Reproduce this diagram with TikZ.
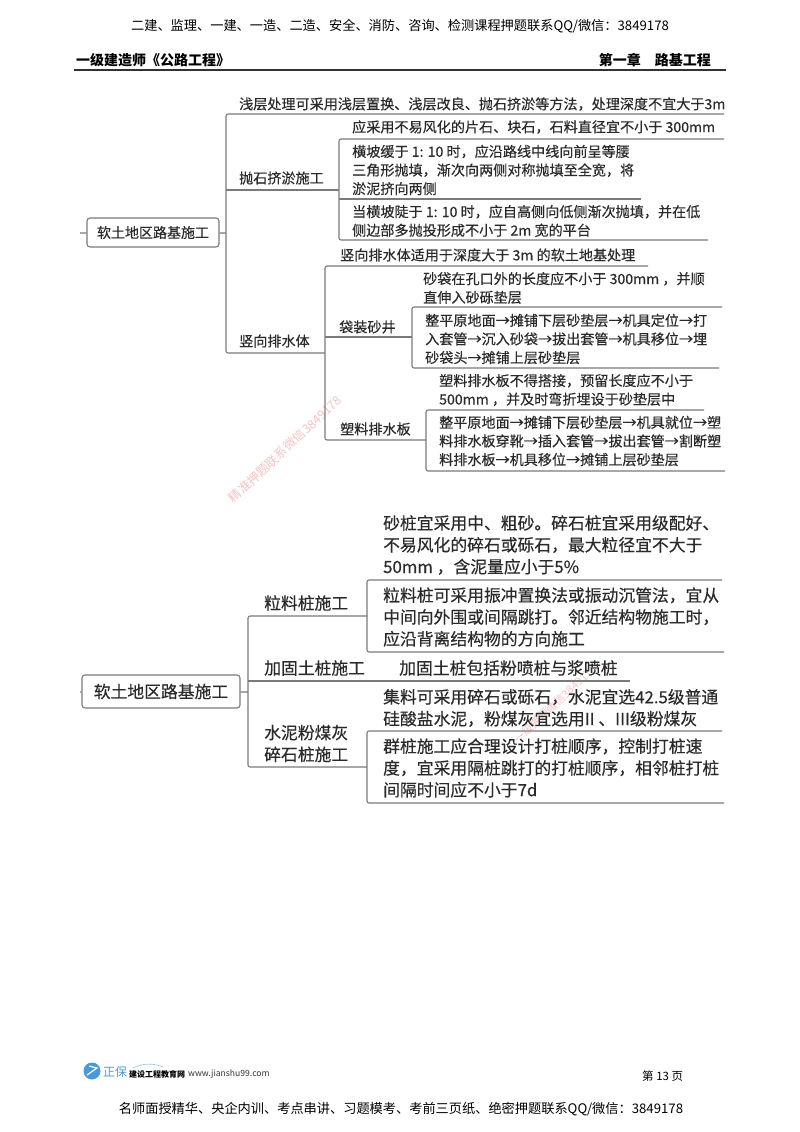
\documentclass[tikz,border=0pt]{standalone}
\usepackage{fontspec}
\setmainfont{Noto Sans CJK SC}
\newfontfamily\mapfont[FakeBold=0.35]{Noto Sans CJK SC}
\newcommand{\fwcomma}{\char"FF0C\relax}
\newcommand{\fwcolon}{\char"FF1A\relax}
\definecolor{mapline}{HTML}{7A7A7A}
\definecolor{maptext}{HTML}{2A2A2A}
\definecolor{markpink}{HTML}{F3C4C4}
\definecolor{logoblue}{HTML}{4A9AD8}
\tikzset{
    branch/.style={draw=mapline, line width=1.1pt, rounded corners=2pt},
    rootbox/.style={draw=mapline, line width=1.1pt, rounded corners=3pt, text=maptext, inner sep=0pt, align=center},
    small/.style={anchor=west, inner sep=0pt, align=left, text=maptext, font=\mapfont\fontsize{14.1}{18.6}\selectfont},
    large/.style={anchor=west, inner sep=0pt, align=left, text=maptext, font=\mapfont\fontsize{16.8}{21.8}\selectfont},
    pagetext/.style={inner sep=0pt, text=black, font=\fontsize{13.2}{16}\selectfont},
    watermark/.style={inner sep=0pt, rotate=43, text=markpink, font=\fontsize{12.5}{14}\selectfont},
}
\begin{document}
\begin{tikzpicture}[x=1pt, y=-1pt]
    \useasboundingbox (0,0) rectangle (800,1132);

    % Watermarks
    \node[watermark] (markup) at (285,449) {精准押题联系微信3849178};
    \node[watermark, font=\fontsize{11}{13}\selectfont] (marklow) at (555,704) {一级押题微信3849178};

    % Page header
    \node[pagetext] (headtop) at (400,26) {二建、监理、一建、一造、二造、安全、消防、咨询、检测课程押题联系QQ/微信\fwcolon 3849178};
    \node[pagetext, anchor=west, font=\fontsize{14}{16}\selectfont\bfseries] (headleft) at (76,60) {一级建造师《公路工程》};
    \node[pagetext, anchor=east, font=\fontsize{14}{16}\selectfont\bfseries] (headright) at (711,60) {第一章\hspace{1em}路基工程};
    \coordinate (ruleleft) at (74,70);
    \coordinate (ruleright) at (726,70);
    \draw[line width=1.3pt, black!80] (ruleleft) -- (ruleright);

    % First map: labels
    \node[rootbox, minimum width=132pt, minimum height=29pt, font=\mapfont\fontsize{14}{16}\selectfont] (rootA) at (153,232.5) {软土地区路基施工};
    \node[small] (shallow) at (239,104) {浅层处理可采用浅层置换、浅层改良、抛石挤淤等方法\fwcomma 处理深度不宜大于3m};
    \node[small] (riprap) at (239,178) {抛石挤淤施工};
    \node[small] (ripA) at (352,127) {应采用不易风化的片石、块石\fwcomma 石料直径宜不小于 300mm};
    \node[small] (ripB) at (352,170) {横坡缓于 1: 10 时\fwcomma 应沿路线中线向前呈等腰\\三角形抛填\fwcomma 渐次向两侧对称抛填至全宽\fwcomma 将\\淤泥挤向两侧};
    \node[small] (ripC) at (352,221) {当横坡陡于 1: 10 时\fwcomma 应自高侧向低侧渐次抛填\fwcomma 并在低\\侧边部多抛投形成不小于 2m 宽的平台};
    \node[small] (vertical) at (239,341) {竖向排水体};
    \node[small] (vertA) at (340,255) {竖向排水体适用于深度大于 3m 的软土地基处理};
    \node[small] (sandwell) at (339,327) {袋装砂井};
    \node[small] (sandA) at (423,288) {砂袋在孔口外的长度应不小于 300mm \fwcomma 并顺\\直伸入砂砾垫层};
    \node[small] (sandB) at (425,339) {整平原地面→摊铺下层砂垫层→机具定位→打\\入套管→沉入砂袋→拔出套管→机具移位→埋\\砂袋头→摊铺上层砂垫层};
    \node[small] (plastic) at (340,429) {塑料排水板};
    \node[small] (plastA) at (439,390) {塑料排水板不得搭接\fwcomma 预留长度应不小于\\500mm \fwcomma 并及时弯折埋设于砂垫层中};
    \node[small] (plastB) at (439,441) {整平原地面→摊铺下层砂垫层→机具就位→塑\\料排水板穿靴→插入套管→拔出套管→割断塑\\料排水板→机具移位→摊铺上层砂垫层};

    % First map: junctions and line ends
    \foreach \name/\x/\y in {stubA/80/233, jointA/226/233, trunkA/226/114, endShallow/724/114,
        jointRip/226/190, forkRip/339/190, topRip/339/139, endRipA/724/139, midRip/339/199, endRipB/641/199,
        lowRip/339/240, endRipC/708/240, lowA/226/353, forkVert/325/353, topVert/325/266, endVertA/648/266,
        jointSand/325/337, forkSand/412/337, topSand/412/307, endSandA/722/307, lowSand/412/368, endSandB/719/368,
        lowVert/325/440, forkPlast/426/440, topPlast/426/410, endPlastA/704/410, lowPlast/426/471, endPlastB/725/471} {
        \coordinate (\name) at (\x,\y);
    }

    % First map: lines
    \draw[branch] (stubA) -- (rootA);
    \draw[branch] (rootA) -- (jointA);
    \draw[branch] (endShallow) -- (trunkA) -- (lowA) -- (forkVert);
    \draw[branch] (jointRip) -- (forkRip);
    \draw[branch] (endRipA) -- (topRip) -- (lowRip) -- (endRipC);
    \draw[branch] (midRip) -- (endRipB);
    \draw[branch] (endVertA) -- (topVert) -- (lowVert) -- (forkPlast);
    \draw[branch] (jointSand) -- (forkSand);
    \draw[branch] (endSandA) -- (topSand) -- (lowSand) -- (endSandB);
    \draw[branch] (endPlastA) -- (topPlast) -- (lowPlast) -- (endPlastB);

    % Second map: labels
    \node[rootbox, minimum width=158pt, minimum height=33pt, font=\mapfont\fontsize{16.8}{18}\selectfont] (rootB) at (161,691.5) {软土地区路基施工};
    \node[large] (granular) at (264,603) {粒料桩施工};
    \node[large] (granA) at (383,545) {砂桩宜采用中、粗砂。碎石桩宜采用级配好、\\不易风化的碎石或砾石\fwcomma 最大粒径宜不大于\\50mm \fwcomma 含泥量应小于5\%};
    \node[large] (granB) at (383,617) {粒料桩可采用振冲置换法或振动沉管法\fwcomma 宜从\\中间向外围或间隔跳打。邻近结构物施工时\fwcomma \\应沿背离结构物的方向施工};
    \node[large] (stabil) at (264,668) {加固土桩施工};
    \node[large] (stabilA) at (399,668) {加固土桩包括粉喷桩与浆喷桩};
    \node[large] (cfg) at (264,743.5) {水泥粉煤灰\\碎石桩施工};
    \node[large] (cfgA) at (383,708) {集料可采用碎石或砾石\fwcomma 水泥宜选42.5级普通\\硅酸盐水泥\fwcomma 粉煤灰宜选用II 、III级粉煤灰};
    \node[large] (cfgB) at (383,768) {群桩施工应合理设计打桩顺序\fwcomma 控制打桩速\\度\fwcomma 宜采用隔桩跳打的打桩顺序\fwcomma 相邻桩打桩\\间隔时间应不小于7d};

    % Second map: junctions and line ends
    \foreach \name/\x/\y in {stubB/80/692, jointB/248/692, topB/248/616, lowB/248/767,
        forkGran/367/616, topGran/367/580, endGranA/722/580, lowGran/367/652, endGranB/724/652,
        jointStabil/248/681, endStabil/630/681,
        forkCfg/367/767, topCfg/367/731, endCfgA/722/731, lowCfg/367/803, endCfgB/724/803} {
        \coordinate (\name) at (\x,\y);
    }

    % Second map: lines
    \draw[branch] (stubB) -- (rootB);
    \draw[branch] (rootB) -- (jointB);
    \draw[branch] (forkGran) -- (topB) -- (lowB) -- (forkCfg);
    \draw[branch] (jointStabil) -- (endStabil);
    \draw[branch] (endGranA) -- (topGran) -- (lowGran) -- (endGranB);
    \draw[branch] (endCfgA) -- (topCfg) -- (lowCfg) -- (endCfgB);

    % Page footer
    \fill[logoblue] (92,1071) circle (8.5);
    \draw[white, line width=1.2pt] (87,1075) -- (97,1068) -- (89,1066);
    \draw[logoblue!60, line width=0.6pt] (133,1068) .. controls (143,1063) and (153,1063) .. (163,1067);
    \node[inner sep=0pt, anchor=west, text=logoblue, font=\fontsize{12}{14}\selectfont] (logoname) at (103,1072) {正保};
    \node[inner sep=0pt, anchor=west, text=black, font=\fontsize{8}{10}\selectfont\bfseries] (logotext) at (129,1074) {建设工程教育网};
    \node[inner sep=0pt, anchor=west, text=black!80, font=\fontsize{8.6}{10}\selectfont] (logourl) at (188,1074) {www.jianshu99.com};
    \node[pagetext, anchor=west, font=\fontsize{11.5}{14}\selectfont] (pagenum) at (642,1076) {第 13 页};
    \node[pagetext] (foot) at (401,1109) {名师面授精华、央企内训、考点串讲、习题模考、考前三页纸、绝密押题联系QQ/微信\fwcolon 3849178};
\end{tikzpicture}
\end{document}
